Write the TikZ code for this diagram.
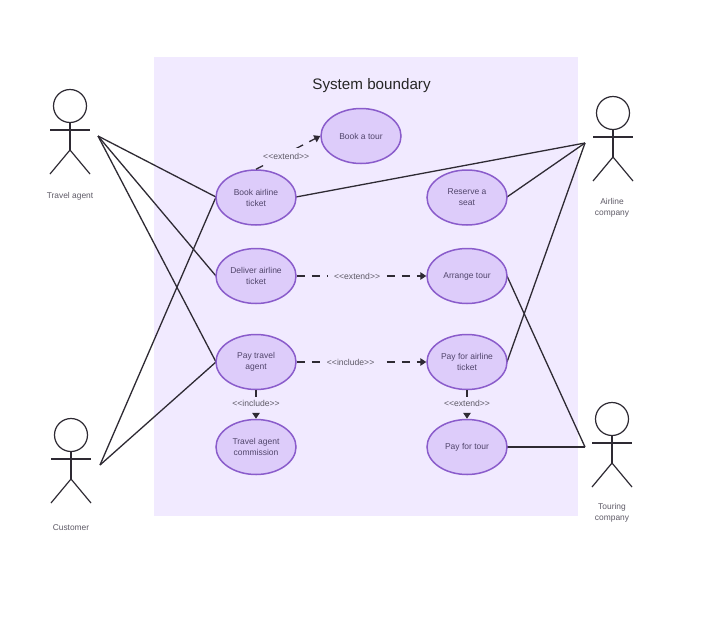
\documentclass[tikz,border=0pt]{standalone}
\usepackage{fontspec}
\setmainfont{Liberation Sans}
\usetikzlibrary{arrows.meta,shapes.geometric}
\definecolor{bound}{HTML}{F1EAFF}
\definecolor{ucfill}{HTML}{DDCCFA}
\definecolor{ucedge}{HTML}{8A5CCB}
\definecolor{uctext}{HTML}{51456B}
\definecolor{lbltext}{HTML}{5E5A66}
\definecolor{linec}{HTML}{2E2A33}
\tikzset{
 usecase/.style={ellipse,draw=ucedge,fill=ucfill,line width=1.5pt,minimum width=80pt,minimum height=55pt,inner sep=0pt,align=center,font=\fontsize{8.5}{11}\selectfont,text=uctext},
 assoc/.style={draw=linec,line width=1.3pt},
 dep/.style={draw=linec,line width=1.3pt,dash pattern=on 8pt off 7pt,-{Triangle[length=6pt,width=7.5pt]}},
 depshort/.style={dep,dash pattern=on 7pt off 30pt},
 deplabel/.style={fill=bound,inner ysep=2pt,inner xsep=6pt,font=\fontsize{8.6}{10}\selectfont,text=lbltext},
 actorline/.style={draw=linec,line width=1.2pt},
 head/.style={circle,draw=linec,line width=1.2pt,minimum size=33pt,inner sep=0pt},
 actorlabel/.style={align=center,font=\fontsize{8.4}{11}\selectfont,text=lbltext}
}
\newcommand{\stickman}[3]{% x, head y, name
 \node[head] (#3) at (#1,#2) {};
 \coordinate (#3-neck) at (#1,#2+24);
 \coordinate (#3-waist) at (#1,#2+44);
 \draw[actorline] (#3.south) -- (#3-waist);
 \draw[actorline] (#1-20,#2+24) -- (#1+20,#2+24);
 \draw[actorline] (#1-20,#2+68) -- (#3-waist) -- (#1+20,#2+68);
}
\begin{document}
\begin{tikzpicture}[x=1pt,y=-1pt]
\useasboundingbox (0,0) rectangle (720,627);
\fill[white] (0,0) rectangle (720,627);
\fill[bound] (154,57) rectangle (578,516);
\node[font=\fontsize{15.2}{17}\selectfont,text=black!85] (title) at (371.5,85.5) {System boundary};

\coordinate (agentpt) at (98,136);
\coordinate (custpt) at (100,465);
\coordinate (airpt) at (585,143);
\coordinate (tourpt) at (585,447);

\stickman{70}{106}{agent}
\stickman{71}{435}{cust}
\stickman{613}{113}{air}
\stickman{612}{419}{tour}
\node[actorlabel] (agentlbl) at (70,196) {Travel agent};
\node[actorlabel] (custlbl) at (71,527.5) {Customer};
\node[actorlabel] (airlbl) at (612,207.5) {Airline\\company};
\node[actorlabel] (tourlbl) at (612,513) {Touring\\company};

\draw[assoc] (agentpt) -- (216,197) coordinate (bookw);
\draw[assoc] (agentpt) -- (216,276) coordinate (delw);
\draw[assoc] (agentpt) -- (216,362) coordinate (payw);
\draw[assoc] (custpt) -- (bookw);
\draw[assoc] (custpt) -- (payw);
\draw[assoc] (airpt) -- (296,197) coordinate (booke);
\draw[assoc] (airpt) -- (507,197) coordinate (rese);
\draw[assoc] (airpt) -- (507,362) coordinate (paye);
\draw[assoc] (tourpt) -- (507,276) coordinate (arre);
\draw[assoc] (tourpt) -- (507,447) coordinate (tfe);

\node[usecase] (tourb) at (361,136) {Book a tour};
\node[usecase] (book) at (256,197.5) {Book airline\\ticket};
\node[usecase] (reserve) at (467,197.5) {Reserve a\\seat};
\node[usecase] (deliver) at (256,276) {Deliver airline\\ticket};
\node[usecase] (arrange) at (467,276) {Arrange tour};
\node[usecase] (paytravel) at (256,362) {Pay travel\\agent};
\node[usecase] (payair) at (467,362) {Pay for airline\\ticket};
\node[usecase] (comm) at (256,447) {Travel agent\\commission};
\node[usecase] (paytour) at (467,447) {Pay for tour};

\draw[dep] (book.north) -- (tourb.west) node[deplabel,pos=0.47,inner ysep=5pt,yshift=-3pt] (l1) {<{}<extend>{}>};
\draw[dep] (deliver.east) -- (arrange.west) node[deplabel,pos=0.466] (l2) {<{}<extend>{}>};
\draw[dep] (paytravel.east) -- (payair.west) node[deplabel,pos=0.416] (l3) {<{}<include>{}>};
\draw[depshort] (paytravel.south) -- (comm.north) node[deplabel,pos=0.45] (l4) {<{}<include>{}>};
\draw[depshort] (payair.south) -- (paytour.north) node[deplabel,pos=0.45] (l5) {<{}<extend>{}>};
\end{tikzpicture}
\end{document}
